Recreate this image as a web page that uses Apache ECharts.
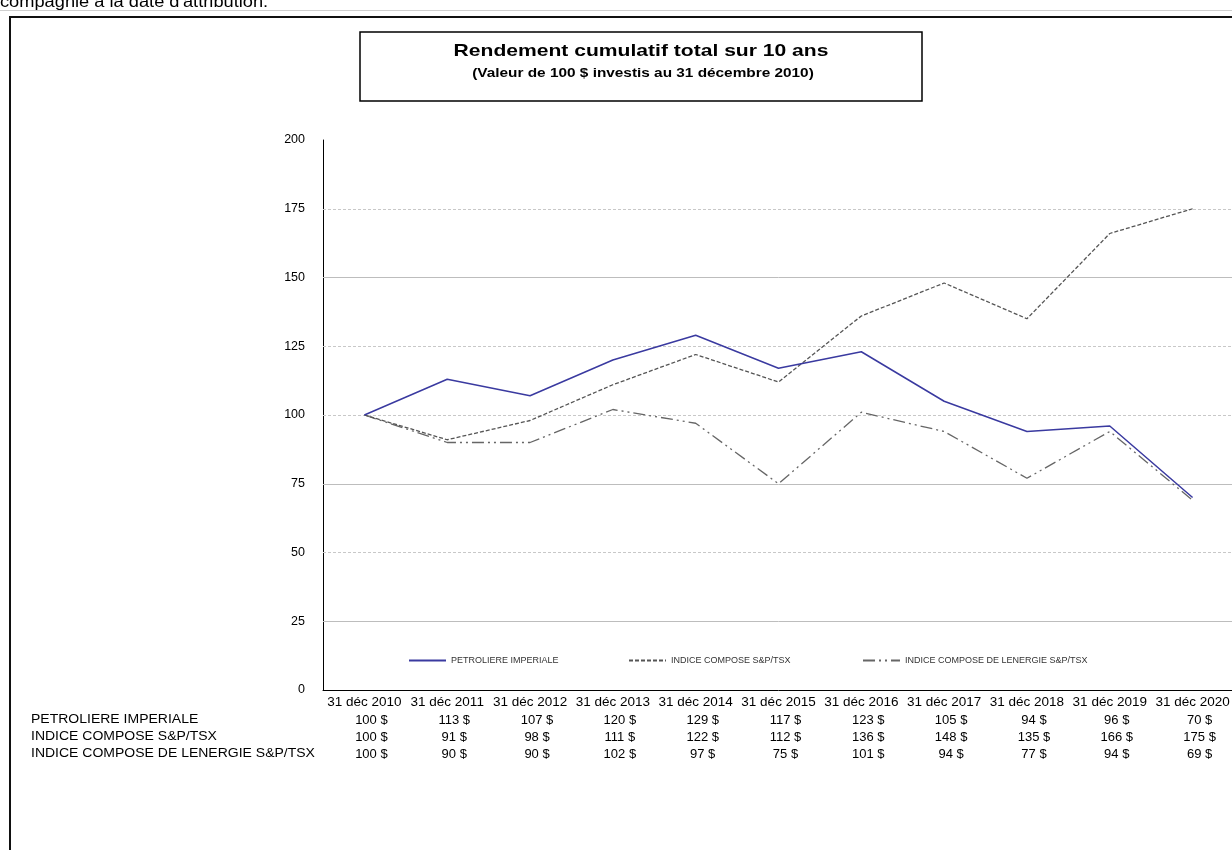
<!DOCTYPE html>
<html>
<head>
<meta charset="utf-8">
<script src="https://cdn.jsdelivr.net/npm/echarts@6/dist/echarts.min.js"></script>
<style>
html,body{margin:0;padding:0;overflow:hidden;background:#fff;width:1232px;height:850px;}
#chart{width:1240px;height:850px;}
</style>
</head>
<body>
<div id="chart"></div>
<script>
const categories = ['31 déc 2010','31 déc 2011','31 déc 2012','31 déc 2013','31 déc 2014','31 déc 2015','31 déc 2016','31 déc 2017','31 déc 2018','31 déc 2019','31 déc 2020'];
const seriesNames = ['PETROLIERE IMPERIALE','INDICE COMPOSE S&P/TSX','INDICE COMPOSE DE LENERGIE S&P/TSX'];
const imperial = [100,113,107,120,129,117,123,105,94,96,70];
const tsx = [100,91,98,111,122,112,136,148,135,166,175];
const energy = [100,90,90,102,97,75,101,94,77,94,69];
const yTicks = [0,25,50,75,100,125,150,175,200];
const solidGrid = [25,75,150];
const dashedGrid = [50,100,125,175];
const titleText = 'Rendement cumulatif total sur 10 ans';
const subtitleText = '(Valeur de 100 $ investis au 31 décembre 2010)';
const topText = "compagnie à la date d'attribution.";

const rows = [imperial, tsx, energy];
const FONT = 'Liberation Sans, Arial, sans-serif';

const chart = echarts.init(document.getElementById('chart'), null, {renderer:'canvas'});

const tableAxes = rows.map((vals, r) => ({
  type:'category', gridIndex:0, data:categories, position:'bottom', offset: 20 + r*17,
  boundaryGap:true,
  axisLine:{show:false}, axisTick:{show:false}, splitLine:{show:false},
  axisLabel:{interval:0, margin:4, color:'#000', fontFamily:FONT, fontSize:13,
    padding:[0,0,0,14],
    formatter:(v, i) => vals[i] + ' $'}
}));

const option = {
  animation:false,
  backgroundColor:'#fff',
  grid:{left:323, top:140, height:550, right:6},
  xAxis:[{
    type:'category', data:categories, boundaryGap:true,
    axisLine:{show:true, lineStyle:{color:'#000', width:1}},
    axisTick:{show:false},
    axisLabel:{interval:0, margin:5, color:'#000', fontFamily:FONT, fontSize:13.5},
    splitLine:{show:false}
  }].concat(tableAxes),
  yAxis:{
    type:'value', min:yTicks[0], max:yTicks[yTicks.length-1], interval:25,
    axisLine:{show:true, lineStyle:{color:'#000', width:1}},
    axisTick:{show:false},
    splitLine:{show:false},
    axisLabel:{margin:18, color:'#000', fontFamily:FONT, fontSize:12.5}
  },
  legend:[0,1,2].map((k) => ({
    data:[seriesNames[k]], left:[408,628,862][k], top:656, padding:0,
    itemWidth:37, itemHeight:10, selectedMode:false,
    itemStyle:{opacity:0},
    textStyle:{fontSize:9, color:'#333', fontFamily:FONT}
  })),
  series:[
    {name:seriesNames[0], type:'line', data:imperial, symbol:'none', z:5,
     lineStyle:{color:'#3a3aa0', width:1.5, type:'solid'}, itemStyle:{color:'#3a3aa0'},
     markLine:{silent:true, symbol:['none','none'], label:{show:false}, z:1,
       lineStyle:{color:'#bdbdbd', width:1, type:'solid'},
       data: solidGrid.map(v => ({yAxis:v}))}},
    {name:seriesNames[1], type:'line', data:tsx, symbol:'none', z:4,
     lineStyle:{color:'#555', width:1.3, type:[4,2]}, itemStyle:{color:'#555'},
     markLine:{silent:true, symbol:['none','none'], label:{show:false}, z:1,
       lineStyle:{color:'#c8c8c8', width:1, type:[3,2]},
       data: dashedGrid.map(v => ({yAxis:v}))}},
    {name:seriesNames[2], type:'line', data:energy, symbol:'none', z:3,
     lineStyle:{color:'#666', width:1.3, type:[12,4,2,4,2,4]}, itemStyle:{color:'#666'}}
  ],
  graphic:[
    {type:'text', x:0, y:11, scaleX:1.14, style:{text:topText, fontSize:16, fontFamily:FONT, fill:'#000', verticalAlign:'bottom'}},
    {type:'rect', shape:{x:0, y:10, width:1240, height:7}, style:{fill:'#fff'}},
    {type:'line', shape:{x1:0, y1:10.5, x2:1240, y2:10.5}, style:{stroke:'#cfcfcf', lineWidth:1}},
    {type:'rect', shape:{x:10, y:17, width:1300, height:900}, style:{fill:'none', stroke:'#111', lineWidth:2}},
    {type:'rect', shape:{x:360, y:32, width:562, height:69}, style:{fill:'#fff', stroke:'#000', lineWidth:1.5}},
    {type:'text', x:641, y:51, scaleX:1.24, style:{text:titleText, fontSize:17, fontWeight:'bold', fontFamily:FONT, fill:'#000', align:'center', verticalAlign:'middle'}},
    {type:'text', x:643, y:74, scaleX:1.28, style:{text:subtitleText, fontSize:12, fontWeight:'bold', fontFamily:FONT, fill:'#000', align:'center', verticalAlign:'middle'}}
  ].concat(seriesNames.map((n, r) => ({
    type:'text', x:31, y:720 + r*17, scaleX:1.12,
    style:{text:n, fontSize:12.5, fontFamily:FONT, fill:'#000', verticalAlign:'middle'}
  })))
};
chart.setOption(option);
</script>
</body>
</html>
